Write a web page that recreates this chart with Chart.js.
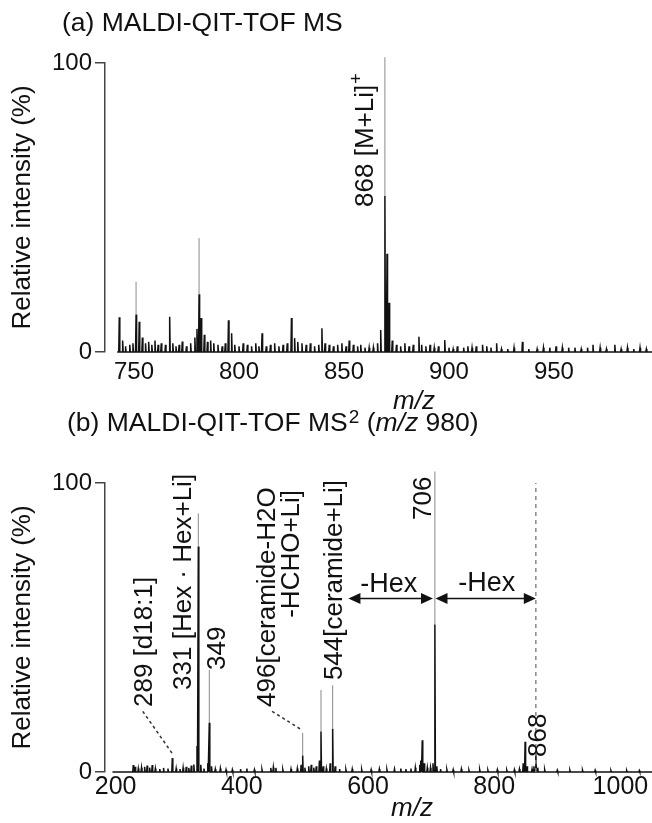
<!DOCTYPE html>
<html><head><meta charset="utf-8">
<script src="https://cdn.jsdelivr.net/npm/chart.js@4.4.0/dist/chart.umd.min.js"></script>
<style>
html,body{margin:0;padding:0;background:#fff;}
#ca{position:absolute;left:0;top:0;}
#cb{position:absolute;left:0;top:395px;}
</style></head><body>
<canvas id="ca" width="652" height="418"></canvas>
<canvas id="cb" width="652" height="428"></canvas>
<script>
const F = "'Liberation Sans', Arial, Helvetica, sans-serif";

// ---------- Panel (a): MALDI-QIT-TOF MS ----------
const titleA = '(a) MALDI-QIT-TOF MS';
const xTicksA = [750, 800, 850, 900, 950];
const yTicks = [0, 100];
const xRangeA = [736.2, 996.7];
const baselineA = [742, 996.7];
const mzA = [743,744.6,746,748,749.5,751,752.5,754,755.5,757,758.5,760,761.5,763,765,767,768.5,770,771.5,773,775,777,779,780,781,782,783.5,785,786.5,788,790,792,793.5,795,796.5,798,800,802,804,806,808,809.5,811,813,815,817,819,821,823,825,826.5,828,830,832,834,836,838,839.5,841,843,845,847,849,851,852.5,854.5,856.5,858,860,862,864,866,867.5,869.5,870.5,871.5,873,875,877,879,881,883,885.7,887,889,891,893,895,898,900,902,904,907,909,911,913,916,918,920,922.7,925,928,931,935,938,942,945,948,951,954,957,960,963,966,968.6,972,975,979,982,985,988,991,994];
const intA = [12,4,2,2.5,3,13,10.5,5,3,3.5,2.5,4,2.5,3,2.5,12.2,3,2,2.5,3.6,2,3,5,8,20,11.8,6,3.5,4,3,2.5,2,3,11,6.5,2.5,2,3,2.5,2,3,2,6.5,2,2.5,3,2,2.5,3,11.8,4.8,3.5,3,2.5,3,2,2.5,8.2,3,2.5,2,2.5,3,2,4,2.5,2,2.5,1.5,1.5,1.5,3,7.6,54,34,17,4,2.5,2,3,2,2.5,5.3,2.5,2,2.5,1.5,2,4.1,1.5,1,2,1.5,2,1.5,2,2.5,2,1.5,3,1,1,1.5,3.5,1,1,1.5,1.5,2,1.5,1.5,1.5,1,1.5,2.5,1.5,1,2.5,1,1.5,1,1.5,1];
const apexMzA = [751, 781, 869.5];
const apexLowA = [13, 20, 54];
const apexTopA = [24.3, 39.4, 102];
const labelA = {text: '868 [M+Li]', sup: '+', mz: 863.8, y: 50.2};

// ---------- Panel (b): MALDI-QIT-TOF MS2 (m/z 980) ----------
const xTicksB = [200, 400, 600, 800, 1000];
const xRangeB = [183.2, 1050.1];
const baselineB = [195, 1050.1];
const mzB = [228,231,236,241,246,250,254,258,263,270,276,283,289.9,296,302,307,312,316,320,324,329,331.1,335,340,346,348.5,352,358,366,375,385,398,408,420,432,446,450,454,465,478,488,494,496.5,500,506,510,514,518,523,525.5,529,534,540,544,548,555,565,575,590,605,618,630,642,652,660,668,675,682,684,686,689,694,699,703,706,709,715,725,735,748,760,777,790,805,820,832,840,846,849,852,860,863,866,869,880,900,920,940,960,985,1010,1030];
const intB = [2.4,1.8,1.2,1.5,1.8,2.2,1.5,2.4,1.2,1,1.4,1.2,4.8,1.2,1,1.5,1.8,1.4,2.2,2.6,9,78,2.5,1.2,3,17,2,1,1.2,0.8,0.8,1,1.2,0.8,0.8,1.4,1.6,1.4,0.8,1,1.2,2.5,5.7,1.5,2,2.5,1.5,2,4,14,2,1.2,3,15,2,1,0.8,1,0.8,0.8,1,0.8,1,1.2,1,1.2,1.5,2.5,4,11,3,1.5,1.5,3,51,2,1,0.8,0.8,1,0.6,0.8,0.6,0.8,0.6,0.8,1,3,10.5,2,1,2,7,1.5,0.8,0.6,0.6,0.6,0.6,0.5,0.5,0.5];
const apexMzB = [331.1, 348.5, 496.5, 525.5, 544, 706];
const apexLowB = [78, 17, 5.7, 14, 15, 51];
const apexTopB = [89.5, 35.3, 13.5, 28.4, 30, 104];
const peakLabelsB = [
  {text: '289 [d18:1]', mz: 257, y: 22.5, align: 'left'},
  {text: '331 [Hex · Hex+Li]', mz: 318.9, y: 28.4, align: 'left'},
  {text: '349', mz: 373.4, y: 35.3, align: 'left'},
  {text: '496[ceramide-H2O', mz: 452.6, y: 22.5, align: 'left'},
  {text: '-HCHO+Li]', mz: 490.6, y: 97.6, align: 'right'},
  {text: '544[ceramide+Li]', mz: 558.8, y: 31.8, align: 'left'},
  {text: '706', mz: 699.8, y: 87.2, align: 'left'},
  {text: '868', mz: 882, y: 5.2, align: 'left'}
];
const leadersB = [[243, 21, 289.5, 6.5], [448, 21, 495.5, 14.5]];
const arrowsB = [[569, 703, 60], [707, 866, 60]];
const hexLabelsB = [{text: '-Hex', mz: 633, y: 62.3}, {text: '-Hex', mz: 788.4, y: 62.6}];
const precursorB = 866;

// ---------- helpers ----------
function stickSeries(mz, inten, w, x0, x1) {
  const idx = mz.map((m, i) => i).sort((a, b) => mz[a] - mz[b]);
  const pts = [{x: x0, y: 0}];
  idx.forEach(i => { pts.push({x: mz[i] - w, y: 0}, {x: mz[i], y: inten[i]}, {x: mz[i] + w, y: 0}); });
  pts.push({x: x1, y: 0});
  return pts;
}
function apexSeries(mz, low, top) {
  const pts = [];
  mz.forEach((m, i) => { pts.push({x: m, y: low[i]}, {x: m, y: top[i]}, {x: m, y: null}); });
  return pts;
}
function rotText(ctx, txt, x, y, align, size, sup) {
  ctx.save();
  ctx.translate(x, y);
  ctx.rotate(-Math.PI / 2);
  ctx.font = size + 'px ' + F;
  ctx.textAlign = align;
  ctx.textBaseline = 'alphabetic';
  ctx.fillText(txt, 0, 0);
  if (sup) {
    const w = ctx.measureText(txt).width;
    ctx.font = Math.round(size * 0.7) + 'px ' + F;
    ctx.textAlign = 'left';
    ctx.fillText(sup, w + 1, -11);
  }
  ctx.restore();
}
function head(ctx, x, y, dir) {
  ctx.beginPath();
  ctx.moveTo(x, y);
  ctx.lineTo(x - dir * 12, y - 5.5);
  ctx.lineTo(x - dir * 12, y + 5.5);
  ctx.closePath();
  ctx.fill();
}

function makeScales(range, ticks, xHeight, tickSize, tickPad) {
  return {
    x: {
      type: 'linear', min: range[0], max: range[1],
      afterBuildTicks: s => { s.ticks = ticks.map(v => ({value: v})); },
      afterFit: s => { s.height = xHeight; },
      border: {display: false},
      grid: {display: false, drawTicks: false},
      ticks: {color: '#111', font: {family: F, size: tickSize}, padding: tickPad, maxRotation: 0, autoSkip: false,
              callback: v => String(v)}
    },
    y: {
      type: 'linear', min: 0, max: 100,
      afterBuildTicks: s => { s.ticks = yTicks.map(v => ({value: v})); },
      afterFit: s => { s.width = 105; },
      border: {display: true, color: '#444', width: 1.5},
      grid: {display: true, drawOnChartArea: false, drawTicks: true, tickLength: 10, color: '#444', lineWidth: 1.5},
      ticks: {color: '#111', font: {family: F, size: 24}, padding: 3, callback: v => String(v)},
      title: {display: true, text: 'Relative intensity (%)', color: '#111', font: {family: F, size: 26}, padding: {top: 7, bottom: 0}}
    }
  };
}

const annotA = {
  id: 'annotA',
  afterDraw(chart) {
    const ctx = chart.ctx, x = chart.scales.x, y = chart.scales.y;
    ctx.save();
    ctx.fillStyle = '#111';
    ctx.font = '26.5px ' + F;
    ctx.textAlign = 'left'; ctx.textBaseline = 'alphabetic';
    ctx.fillText(titleA, 62, 31);
    ctx.font = 'italic 26px ' + F;
    ctx.textAlign = 'center';
    ctx.fillText('m/z', 414, 409);
    rotText(ctx, labelA.text, x.getPixelForValue(labelA.mz), y.getPixelForValue(labelA.y), 'left', 26, labelA.sup);
    ctx.restore();
  }
};

const annotB = {
  id: 'annotB',
  afterDraw(chart) {
    const ctx = chart.ctx, x = chart.scales.x, y = chart.scales.y;
    ctx.save();
    ctx.fillStyle = '#111';
    ctx.strokeStyle = '#111';
    // title
    ctx.textAlign = 'left'; ctx.textBaseline = 'alphabetic';
    let cx = 67; const by = 36;
    ctx.font = '26.5px ' + F;
    const t1 = '(b) MALDI-QIT-TOF MS';
    ctx.fillText(t1, cx, by); cx += ctx.measureText(t1).width + 1;
    ctx.font = '19px ' + F;
    ctx.fillText('2', cx, by - 8); cx += ctx.measureText('2').width;
    ctx.font = '26.5px ' + F;
    ctx.fillText(' (', cx, by); cx += ctx.measureText(' (').width;
    ctx.font = 'italic 26.5px ' + F;
    ctx.fillText('m/z', cx, by); cx += ctx.measureText('m/z').width;
    ctx.font = '26.5px ' + F;
    ctx.fillText(' 980)', cx, by);
    // m/z axis title
    ctx.font = 'italic 26px ' + F;
    ctx.textAlign = 'center';
    ctx.fillText('m/z', 412, 421);
    // precursor dashed line
    ctx.save();
    ctx.strokeStyle = '#888'; ctx.lineWidth = 1.5; ctx.setLineDash([4, 4]);
    ctx.beginPath();
    ctx.moveTo(x.getPixelForValue(precursorB), y.getPixelForValue(0));
    ctx.lineTo(x.getPixelForValue(precursorB), y.getPixelForValue(100));
    ctx.stroke();
    ctx.restore();
    // leaders
    ctx.save();
    ctx.strokeStyle = '#333'; ctx.lineWidth = 1.5; ctx.setLineDash([3, 3]);
    leadersB.forEach(l => {
      ctx.beginPath();
      ctx.moveTo(x.getPixelForValue(l[0]), y.getPixelForValue(l[1]));
      ctx.lineTo(x.getPixelForValue(l[2]), y.getPixelForValue(l[3]));
      ctx.stroke();
    });
    ctx.restore();
    // arrows
    ctx.lineWidth = 1.5;
    arrowsB.forEach(a => {
      const x1 = x.getPixelForValue(a[0]), x2 = x.getPixelForValue(a[1]), yy = y.getPixelForValue(a[2]);
      ctx.beginPath(); ctx.moveTo(x1 + 10, yy); ctx.lineTo(x2 - 10, yy); ctx.stroke();
      head(ctx, x1, yy, -1); head(ctx, x2, yy, 1);
    });
    // -Hex labels
    ctx.font = '27px ' + F;
    ctx.textAlign = 'center';
    hexLabelsB.forEach(h => ctx.fillText(h.text, x.getPixelForValue(h.mz), y.getPixelForValue(h.y)));
    // peak labels
    peakLabelsB.forEach(p => rotText(ctx, p.text, x.getPixelForValue(p.mz), y.getPixelForValue(p.y), p.align, 26));
    ctx.restore();
  }
};

function makeChart(id, body, apex, range, ticks, xHeight, padTop, tickSize, tickPad, plugin) {
  return new Chart(document.getElementById(id), {
    type: 'line',
    data: {
      datasets: [
        {data: body, borderColor: '#111', borderWidth: 1.5, pointRadius: 0, tension: 0, fill: false, clip: false, order: 1},
        {data: apex, borderColor: '#8a8a8a', borderWidth: 1, pointRadius: 0, tension: 0, fill: false, spanGaps: false, clip: false, order: 2}
      ]
    },
    options: {
      responsive: false, animation: false, devicePixelRatio: 1,
      layout: {padding: {top: padTop, left: 0, right: 0, bottom: 0}},
      plugins: {legend: {display: false}, tooltip: {enabled: false}, title: {display: false}},
      scales: makeScales(range, ticks, xHeight, tickSize, tickPad)
    },
    plugins: [plugin]
  });
}

makeChart('ca', stickSeries(mzA, intA, 0.25, baselineA[0], baselineA[1]), apexSeries(apexMzA, apexLowA, apexTopA),
  xRangeA, xTicksA, 66, 63, 24, 6, annotA);
makeChart('cb', stickSeries(mzB, intB, 0.8, baselineB[0], baselineB[1]), apexSeries(apexMzB, apexLowB, apexTopB),
  xRangeB, xTicksB, 51, 88, 25, 0, annotB);
</script>
</body></html>
